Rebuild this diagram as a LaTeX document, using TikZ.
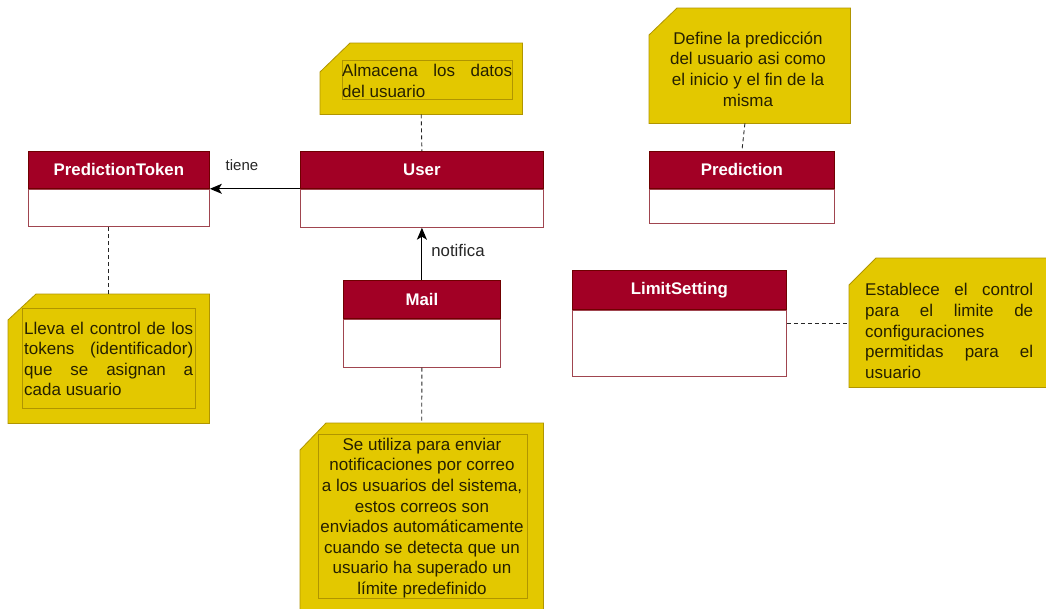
\documentclass[tikz,border=0pt]{standalone}
\usepackage{fontspec}
\setmainfont{Liberation Sans}
\usetikzlibrary{arrows.meta}
\definecolor{hdr}{HTML}{A20025}
\definecolor{hdrline}{HTML}{6F0000}
\definecolor{bodyline}{HTML}{A0454F}
\definecolor{notefill}{HTML}{E3C800}
\definecolor{noteline}{HTML}{B09500}
\definecolor{notetext}{HTML}{262000}
\tikzset{
  classhdr/.style={rectangle, fill=hdr, draw=hdrline, line width=0.8pt, text=white,
    font=\fontsize{16.8}{19}\selectfont\bfseries, inner sep=0pt, anchor=north west},
  classbody/.style={rectangle, fill=white, draw=bodyline, line width=0.9pt, inner sep=0pt, anchor=north},
  notebox/.style={rectangle, draw=none, fill=none, inner sep=0pt, anchor=north west},
  noteshape/.style={fill=notefill, draw=noteline, line width=0.8pt},
  innerbox/.style={draw=noteline, line width=0.6pt},
  notetxt/.style={inner sep=0pt, text=notetext, font=\fontsize{17}{20.6}\selectfont},
  dashline/.style={draw=black!85, line width=0.9pt, dash pattern=on 4pt off 3pt},
  assoc/.style={draw=black, line width=1.1pt, -{Stealth[length=12pt,width=10pt,inset=3pt]}},
  lbl/.style={inner sep=0pt, text=black!85}
}
\begin{document}
\begin{tikzpicture}[x=1pt,y=-1pt]
\useasboundingbox (0,0) rectangle (1046,608);
\clip (0,0) rectangle (1046,608);
\fill[white] (0,0) rectangle (1046,608);

% ---------- classes ----------
\node[classhdr, minimum width=181pt, minimum height=37pt] (ptH) at (28,151) {PredictionToken};
\node[classbody, minimum width=181pt, minimum height=37pt] (ptB) at (ptH.south) {};

\node[classhdr, minimum width=243pt, minimum height=37pt] (uH) at (300,151) {User};
\node[classbody, minimum width=243pt, minimum height=38pt] (uB) at (uH.south) {};

\node[classhdr, minimum width=185pt, minimum height=37pt] (pH) at (649,151) {Prediction};
\node[classbody, minimum width=185pt, minimum height=34pt] (pB) at (pH.south) {};

\node[classhdr, minimum width=157pt, minimum height=38pt] (mH) at (343,280) {Mail};
\node[classbody, minimum width=157pt, minimum height=48pt] (mB) at (mH.south) {};

\node[classhdr, minimum width=214pt, minimum height=39pt] (lH) at (572,270) {LimitSetting};
\node[classbody, minimum width=214pt, minimum height=66pt] (lB) at (lH.south) {};

% ---------- notes ----------
% User note
\node[notebox, minimum width=202pt, minimum height=71pt] (nU) at (320,43) {};
\draw[noteshape] ([xshift=30pt]nU.north west) -- (nU.north east) -- (nU.south east) -- (nU.south west) -- ([yshift=-29pt]nU.north west) -- cycle;
\draw[innerbox] (342,60) rectangle (512,99);
\node[notetxt, anchor=west, align=left] (tU) at (342,81) {\makebox[170pt][s]{Almacena los datos}\\del usuario};

% Prediction note
\node[notebox, minimum width=201pt, minimum height=115pt] (nP) at (649,8) {};
\draw[noteshape] ([xshift=28pt]nP.north west) -- (nP.north east) -- (nP.south east) -- (nP.south west) -- ([yshift=-27pt]nP.north west) -- cycle;
\node[notetxt, align=center] (tP) at (748,69) {Define la predicción\\del usuario asi como\\el inicio y el fin de la\\misma};

% PredictionToken note
\node[notebox, minimum width=201pt, minimum height=129pt] (nPT) at (8,294) {};
\draw[noteshape] ([xshift=28pt]nPT.north west) -- (nPT.north east) -- (nPT.south east) -- (nPT.south west) -- ([yshift=-26pt]nPT.north west) -- cycle;
\draw[innerbox] (22,308) rectangle (195,408);
\node[notetxt, anchor=west, align=left] (tPT) at (24,359) {\makebox[169pt][s]{Lleva el control de los}\\\makebox[169pt][s]{tokens (identificador)}\\\makebox[169pt][s]{que se asignan a}\\cada usuario};

% Mail note
\node[notebox, minimum width=243pt, minimum height=192pt] (nM) at (300,423) {};
\draw[noteshape] ([xshift=26pt]nM.north west) -- (nM.north east) -- (nM.south east) -- (nM.south west) -- ([yshift=-27pt]nM.north west) -- cycle;
\draw[innerbox] (318,434) rectangle (527,598);
\node[notetxt, align=center] (tM) at (422,518) {Se utiliza para enviar\\notificaciones por correo\\a los usuarios del sistema,\\estos correos son\\enviados automáticamente\\cuando se detecta que un\\usuario ha superado un\\límite predefinido};

% LimitSetting note
\node[notebox, minimum width=202pt, minimum height=129pt] (nL) at (849,258) {};
\draw[noteshape] ([xshift=27pt]nL.north west) -- (nL.north east) -- (nL.south east) -- (nL.south west) -- ([yshift=-27pt]nL.north west) -- cycle;
\node[notetxt, anchor=west, align=left] (tL) at (865,331) {\makebox[168pt][s]{Establece el control}\\\makebox[168pt][s]{para el limite de}\\configuraciones\\\makebox[168pt][s]{permitidas para el}\\usuario};

% ---------- connectors ----------
\draw[assoc] (uB.north west) -- (ptB.north east);
\node[lbl, font=\fontsize{15}{17}\selectfont] (lt) at (242,165) {tiene};

\draw[assoc] (mH.north) -- (uB.south);
\node[lbl, font=\fontsize{16.8}{19}\selectfont] (ln) at (458,250) {notifica};

\draw[dashline] (nU.south) -- (uH.north);
\draw[dashline] ([xshift=3pt]pH.north |- nP.south) -- (pH.north);
\draw[dashline] (nPT.north) -- (nPT.north |- ptB.south);
\draw[dashline] (mB.south) -- (nM.north);
\coordinate (lc) at ([yshift=20pt]lB.east);
\draw[dashline] (lc) -- (lc -| nL.west);
\end{tikzpicture}
\end{document}
